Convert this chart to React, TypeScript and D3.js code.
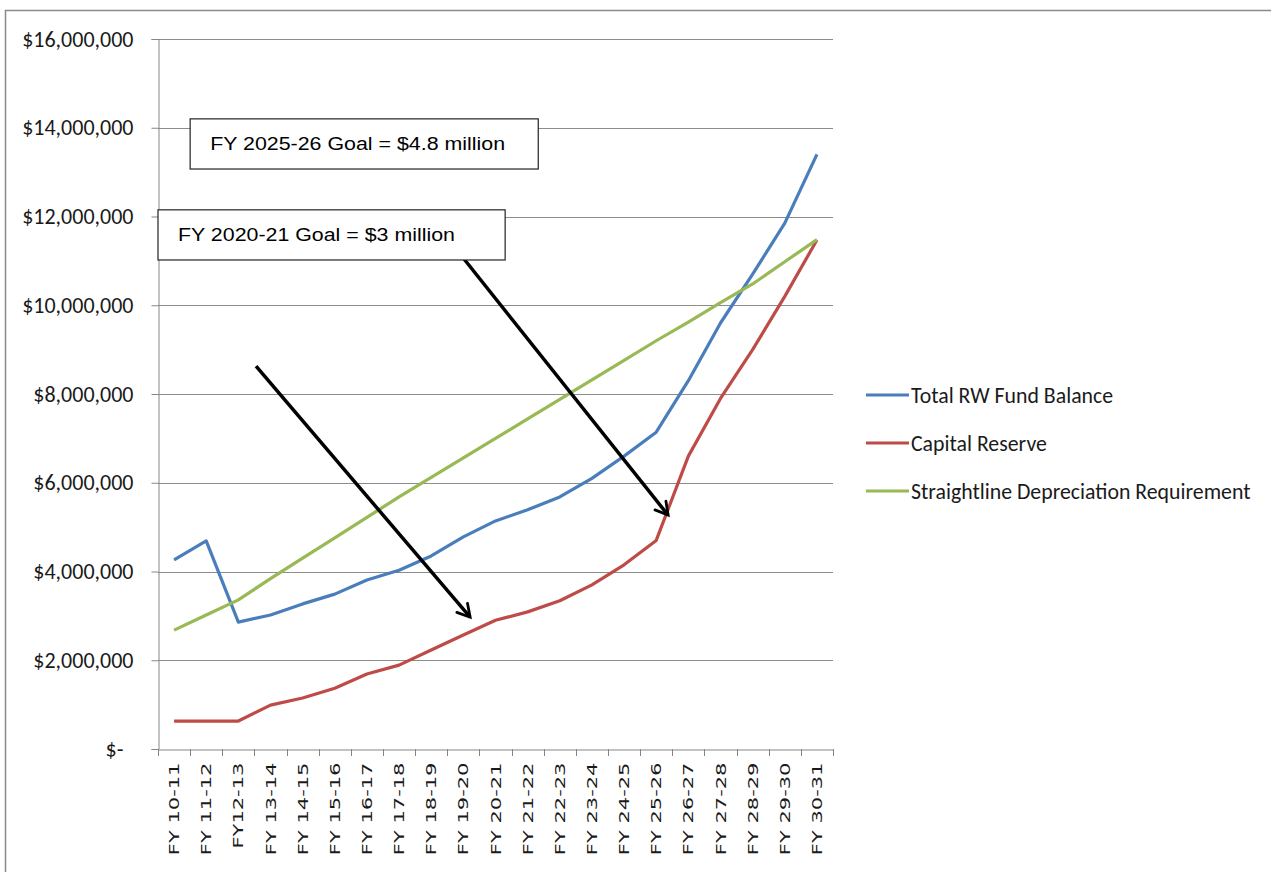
import React, { useEffect, useRef } from "react";
import * as d3 from "d3";

const categories = [
  "FY 10-11", "FY 11-12", "FY12-13", "FY 13-14", "FY 14-15", "FY 15-16", "FY 16-17",
  "FY 17-18", "FY 18-19", "FY 19-20", "FY 20-21", "FY 21-22", "FY 22-23", "FY 23-24",
  "FY 24-25", "FY 25-26", "FY 26-27", "FY 27-28", "FY 28-29", "FY 29-30", "FY 30-31",
];

const totalBalance = [
  4.26, 4.69, 2.86, 3.02, 3.27, 3.49, 3.81, 4.03, 4.35, 4.78, 5.14,
  5.39, 5.68, 6.1, 6.6, 7.14, 8.3, 9.6, 10.7, 11.85, 13.4,
];
const capitalReserve = [
  0.63, 0.63, 0.63, 0.99, 1.15, 1.37, 1.69, 1.89, 2.23, 2.57, 2.9,
  3.09, 3.34, 3.7, 4.15, 4.7, 6.6, 7.9, 9.0, 10.2, 11.47,
];
const straightline = [
  2.68, 3.02, 3.36, 3.84, 4.3, 4.76, 5.22, 5.68, 6.12, 6.56, 7.0,
  7.44, 7.88, 8.32, 8.76, 9.2, 9.62, 10.06, 10.48, 10.98, 11.48,
];

const yTicks = [0, 2, 4, 6, 8, 10, 12, 14, 16];

const seriesNames = ["Total RW Fund Balance", "Capital Reserve", "Straightline Depreciation Requirement"];
const seriesColors = ["#4a7ebb", "#be4b48", "#98b954"];

// annotation boxes & arrows, in data units (category index, $ millions)
const goalLabels = ["FY 2025-26 Goal = $4.8 million", "FY 2020-21 Goal = $3 million"];
const goalLabelWidths = [295, 277];
const goalBoxes = [
  { i0: 0.5, i1: 11.33, v0: 14.2, v1: 13.07 },
  { i0: -0.5, i1: 10.3, v0: 12.15, v1: 11.02 },
];
const arrows = [
  { i0: 2.55, v0: 8.63, i1: 9.21, v1: 2.97 },
  { i0: 8.99, v0: 11.07, i1: 15.37, v1: 5.27 },
];

const fmtMoney = (v: number) => (v === 0 ? "$-" : "$" + d3.format(",")(v * 1e6));

const calibriLike = "Carlito, 'Liberation Sans Narrow', 'DejaVu Sans Condensed', sans-serif";

export default function App() {
  const ref = useRef<SVGSVGElement>(null);

  useEffect(() => {
    const svg = d3.select(ref.current);
    svg.selectAll("*").remove();

    const left = 158, right = 833, top = 39, bottom = 749;

    const x = d3.scaleBand().domain(categories).range([left, right]);
    const xi = d3.scaleLinear().domain([0, 1]).range([left + x.bandwidth() / 2, left + x.bandwidth() * 1.5]);
    const y = d3.scaleLinear().domain([0, 16]).range([bottom, top]);

    // outer frame
    svg.append("rect")
      .attr("x", 5.5).attr("y", 10.5).attr("width", 1400).attr("height", 1000)
      .attr("fill", "white").attr("stroke", "#8a8a8a").attr("stroke-width", 1.5);

    // gridlines
    svg.append("g").selectAll("line").data(yTicks.filter(d => d > 0)).join("line")
      .attr("x1", left).attr("x2", right)
      .attr("y1", d => Math.round(y(d)) + 0.5).attr("y2", d => Math.round(y(d)) + 0.5)
      .attr("stroke", "#8c8c8c").attr("stroke-width", 1.2);

    // y axis
    const yAxis = svg.append("g")
      .attr("transform", `translate(${left + 0.5},0)`)
      .call(d3.axisLeft(y).tickValues(yTicks).tickSize(7).tickPadding(18).tickFormat(d => fmtMoney(+d)));
    yAxis.select(".domain").attr("stroke", "#868686");
    yAxis.selectAll(".tick line").attr("stroke", "#868686");
    yAxis.selectAll(".tick text")
      .attr("font-family", calibriLike)
      .attr("font-size", 22).attr("fill", "#1a1a1a")
      .attr("dx", (d: any) => (d === 0 ? -10 : 0));

    // x axis
    const xAxis = svg.append("g")
      .attr("transform", `translate(0,${bottom + 0.5})`)
      .call(d3.axisBottom(x).tickSize(0).tickSizeOuter(0));
    xAxis.select(".domain").attr("stroke", "#868686");
    xAxis.selectAll(".tick text")
      .attr("font-family", "'DejaVu Sans', Verdana, sans-serif")
      .attr("font-size", 14.5).attr("fill", "#1a1a1a")
      .attr("transform", "rotate(-90) scale(1.45,1)")
      .attr("text-anchor", "end")
      .attr("x", -9).attr("y", 0).attr("dy", "0.35em");
    // band boundary ticks
    svg.append("g").selectAll("line").data(d3.range(categories.length + 1)).join("line")
      .attr("x1", i => Math.round(left + i * x.bandwidth()) + 0.5)
      .attr("x2", i => Math.round(left + i * x.bandwidth()) + 0.5)
      .attr("y1", bottom).attr("y2", bottom + 7)
      .attr("stroke", "#868686");

    // series lines
    const line = d3.line<number>().x((_, i) => xi(i)).y(d => y(d));
    [totalBalance, capitalReserve, straightline].forEach((s, k) => {
      svg.append("path").datum(s)
        .attr("d", line)
        .attr("fill", "none")
        .attr("stroke", seriesColors[k])
        .attr("stroke-width", 3.2)
        .attr("stroke-linejoin", "round");
    });

    // arrows
    const defs = svg.append("defs");
    defs.append("marker")
      .attr("id", "arrowhead").attr("viewBox", "0 0 10 10")
      .attr("refX", 8).attr("refY", 5)
      .attr("markerWidth", 5).attr("markerHeight", 5)
      .attr("orient", "auto")
      .append("path").attr("d", "M1,1 L8,5 L1,9").attr("fill", "none")
      .attr("stroke", "black").attr("stroke-width", 1.6).attr("stroke-linecap", "round");
    svg.append("g").selectAll("line").data(arrows).join("line")
      .attr("x1", d => xi(d.i0)).attr("y1", d => y(d.v0))
      .attr("x2", d => xi(d.i1)).attr("y2", d => y(d.v1))
      .attr("stroke", "black").attr("stroke-width", 3.5)
      .attr("marker-end", "url(#arrowhead)");

    // goal boxes
    const boxes = svg.append("g").selectAll("g").data(goalBoxes).join("g");
    boxes.append("rect")
      .attr("x", d => xi(d.i0)).attr("y", d => y(d.v0))
      .attr("width", d => xi(d.i1) - xi(d.i0)).attr("height", d => y(d.v1) - y(d.v0))
      .attr("fill", "white").attr("stroke", "#222").attr("stroke-width", 1.2);
    boxes.append("text")
      .attr("x", d => xi(d.i0) + 20).attr("y", d => (y(d.v0) + y(d.v1)) / 2 + 6)
      .attr("font-family", "Arial, 'Liberation Sans', sans-serif")
      .attr("font-size", 17.5).attr("fill", "black")
      .attr("textLength", (_, i) => goalLabelWidths[i])
      .attr("lengthAdjust", "spacingAndGlyphs")
      .text((_, i) => goalLabels[i]);

    // legend
    const lg = svg.append("g").selectAll("g").data(seriesNames).join("g")
      .attr("transform", (_, i) => `translate(866,${395 + i * 48})`);
    lg.append("line").attr("x1", 0).attr("x2", 43).attr("y1", 0).attr("y2", 0)
      .attr("stroke", (_, i) => seriesColors[i]).attr("stroke-width", 3.2);
    lg.append("text").attr("x", 45).attr("y", 0).attr("dy", "0.35em")
      .attr("font-family", calibriLike)
      .attr("font-size", 21.8).attr("fill", "#1a1a1a")
      .text(d => d);
  }, []);

  return (
    <div style={{ position: "absolute", left: 0, top: 0 }}>
      <svg ref={ref} width={1271} height={872} style={{ display: "block" }} />
    </div>
  );
}
